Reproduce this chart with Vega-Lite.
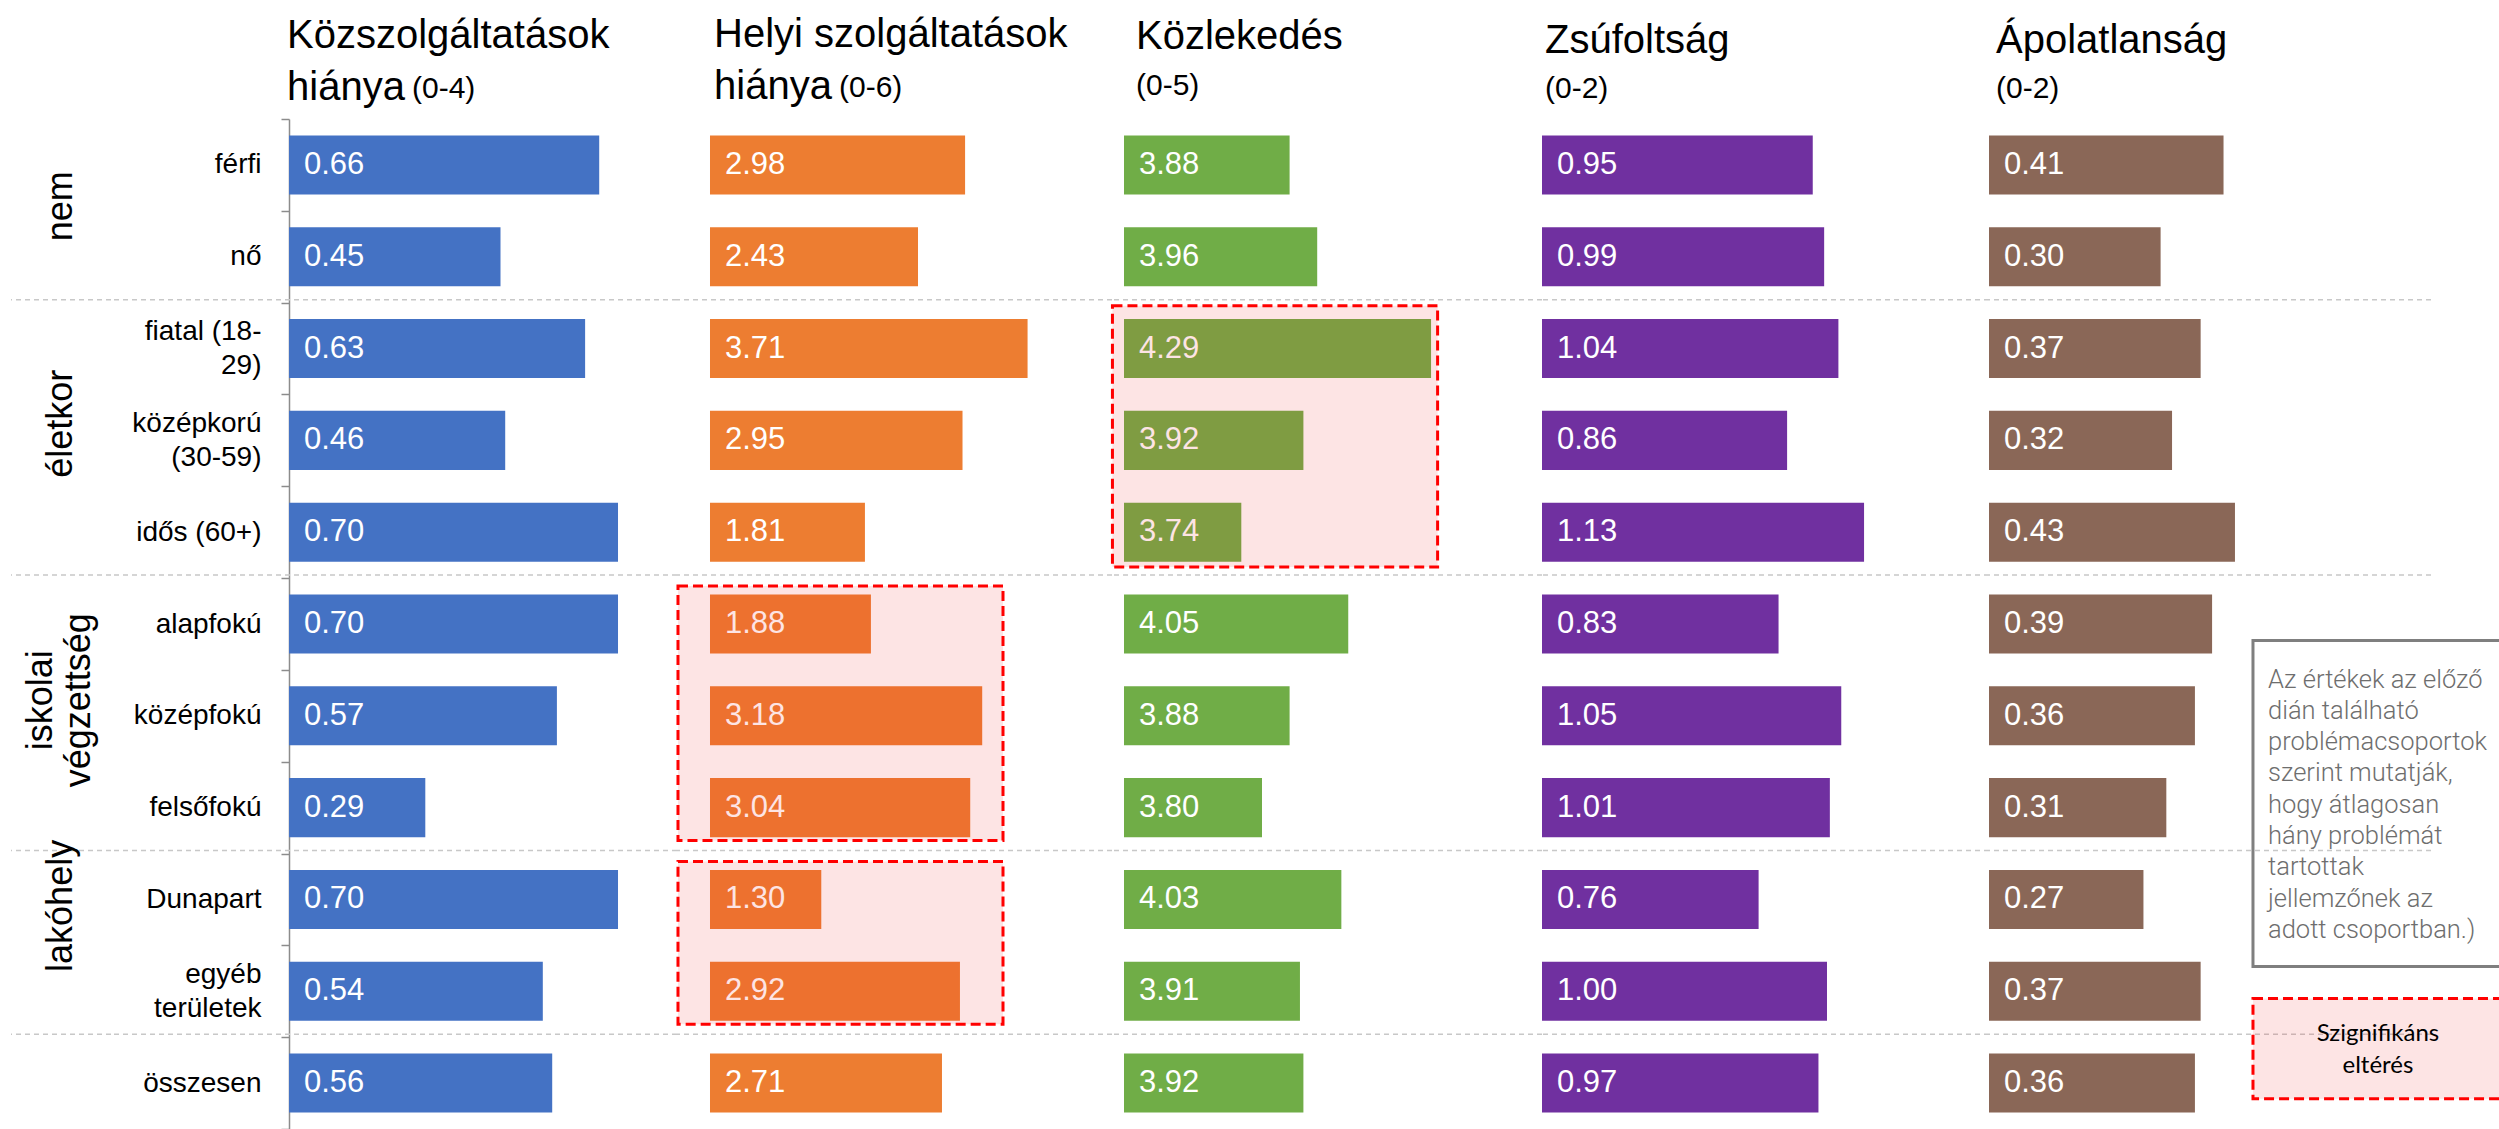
{
  "$schema": "https://vega.github.io/schema/vega-lite/v6.json",
  "padding": {"left": 10, "top": 15, "right": 0, "bottom": 0},
  "bounds": "flush",
  "spacing": 0,
  "datasets": {
    "bars": [
      {"panel": "P1", "row": "férfi", "value": 0.66},
      {"panel": "P1", "row": "nő", "value": 0.45},
      {"panel": "P1", "row": "fiatal (18-29)", "value": 0.63},
      {"panel": "P1", "row": "középkorú (30-59)", "value": 0.46},
      {"panel": "P1", "row": "idős (60+)", "value": 0.70},
      {"panel": "P1", "row": "alapfokú", "value": 0.70},
      {"panel": "P1", "row": "középfokú", "value": 0.57},
      {"panel": "P1", "row": "felsőfokú", "value": 0.29},
      {"panel": "P1", "row": "Dunapart", "value": 0.70},
      {"panel": "P1", "row": "egyéb területek", "value": 0.54},
      {"panel": "P1", "row": "összesen", "value": 0.56},
      {"panel": "P2", "row": "férfi", "value": 2.98},
      {"panel": "P2", "row": "nő", "value": 2.43},
      {"panel": "P2", "row": "fiatal (18-29)", "value": 3.71},
      {"panel": "P2", "row": "középkorú (30-59)", "value": 2.95},
      {"panel": "P2", "row": "idős (60+)", "value": 1.81},
      {"panel": "P2", "row": "alapfokú", "value": 1.88},
      {"panel": "P2", "row": "középfokú", "value": 3.18},
      {"panel": "P2", "row": "felsőfokú", "value": 3.04},
      {"panel": "P2", "row": "Dunapart", "value": 1.30},
      {"panel": "P2", "row": "egyéb területek", "value": 2.92},
      {"panel": "P2", "row": "összesen", "value": 2.71},
      {"panel": "P3", "row": "férfi", "value": 3.88},
      {"panel": "P3", "row": "nő", "value": 3.96},
      {"panel": "P3", "row": "fiatal (18-29)", "value": 4.29},
      {"panel": "P3", "row": "középkorú (30-59)", "value": 3.92},
      {"panel": "P3", "row": "idős (60+)", "value": 3.74},
      {"panel": "P3", "row": "alapfokú", "value": 4.05},
      {"panel": "P3", "row": "középfokú", "value": 3.88},
      {"panel": "P3", "row": "felsőfokú", "value": 3.80},
      {"panel": "P3", "row": "Dunapart", "value": 4.03},
      {"panel": "P3", "row": "egyéb területek", "value": 3.91},
      {"panel": "P3", "row": "összesen", "value": 3.92},
      {"panel": "P4", "row": "férfi", "value": 0.95},
      {"panel": "P4", "row": "nő", "value": 0.99},
      {"panel": "P4", "row": "fiatal (18-29)", "value": 1.04},
      {"panel": "P4", "row": "középkorú (30-59)", "value": 0.86},
      {"panel": "P4", "row": "idős (60+)", "value": 1.13},
      {"panel": "P4", "row": "alapfokú", "value": 0.83},
      {"panel": "P4", "row": "középfokú", "value": 1.05},
      {"panel": "P4", "row": "felsőfokú", "value": 1.01},
      {"panel": "P4", "row": "Dunapart", "value": 0.76},
      {"panel": "P4", "row": "egyéb területek", "value": 1.00},
      {"panel": "P4", "row": "összesen", "value": 0.97},
      {"panel": "P5", "row": "férfi", "value": 0.41},
      {"panel": "P5", "row": "nő", "value": 0.30},
      {"panel": "P5", "row": "fiatal (18-29)", "value": 0.37},
      {"panel": "P5", "row": "középkorú (30-59)", "value": 0.32},
      {"panel": "P5", "row": "idős (60+)", "value": 0.43},
      {"panel": "P5", "row": "alapfokú", "value": 0.39},
      {"panel": "P5", "row": "középfokú", "value": 0.36},
      {"panel": "P5", "row": "felsőfokú", "value": 0.31},
      {"panel": "P5", "row": "Dunapart", "value": 0.27},
      {"panel": "P5", "row": "egyéb területek", "value": 0.37},
      {"panel": "P5", "row": "összesen", "value": 0.36}
    ],
    "seps": [
      {"row": "fiatal (18-29)"},
      {"row": "alapfokú"},
      {"row": "Dunapart"},
      {"row": "összesen"}
    ],
    "sig": [
      {"panel": "P2", "first": "alapfokú", "last": "felsőfokú"},
      {"panel": "P2", "first": "Dunapart", "last": "egyéb területek"},
      {"panel": "P3", "first": "fiatal (18-29)", "last": "idős (60+)"}
    ],
    "groups": [
      {"label": "nem", "anchor": "férfi", "kind": "a"},
      {"label": "életkor", "anchor": "középkorú (30-59)", "kind": "b"},
      {"label": "iskolai\nvégzettség", "anchor": "középfokú", "kind": "d"},
      {"label": "lakóhely", "anchor": "Dunapart", "kind": "c"}
    ],
    "note": [
      {"top": "alapfokú", "bottom": "egyéb területek", "first": "középfokú", "text": "Az értékek az előző\ndián található\nproblémacsoportok\nszerint mutatják,\nhogy átlagosan\nhány problémát\ntartottak\njellemzőnek az\nadott csoportban.)"}
    ],
    "legend": [
      {"top": "egyéb területek", "bottom": "összesen", "first": "egyéb területek", "text": "Szignifikáns\neltérés"}
    ]
  },
  "hconcat": [
    {
      "width": 100,
      "height": 1010,
      "layer": [
        {
          "data": {"name": "seps"},
          "mark": {"type": "rule", "color": "#c8c8c8", "strokeWidth": 1.5, "strokeDash": [5, 4], "yOffset": -3},
          "encoding": {"y": {"field": "row", "type": "nominal", "bandPosition": 0, "scale": {"domain": ["férfi", "nő", "fiatal (18-29)", "középkorú (30-59)", "idős (60+)", "alapfokú", "középfokú", "felsőfokú", "Dunapart", "egyéb területek", "összesen"], "paddingInner": 0, "paddingOuter": 0}, "axis": null}}
        },
        {
          "data": {"name": "groups"},
          "transform": [{"filter": "datum.kind === 'a'"}],
          "mark": {"type": "text", "angle": 270, "align": "center", "baseline": "middle", "font": "Liberation Sans", "fontSize": 36, "lineHeight": 38, "lineBreak": "\n", "color": "#000000"},
          "encoding": {
            "y": {"field": "anchor", "type": "nominal", "bandPosition": 0.95, "scale": {"domain": ["férfi", "nő", "fiatal (18-29)", "középkorú (30-59)", "idős (60+)", "alapfokú", "középfokú", "felsőfokú", "Dunapart", "egyéb területek", "összesen"], "paddingInner": 0, "paddingOuter": 0}, "axis": null},
            "text": {"field": "label"}
          }
        },
        {
          "data": {"name": "groups"},
          "transform": [{"filter": "datum.kind === 'b'"}],
          "mark": {"type": "text", "angle": 270, "align": "center", "baseline": "middle", "font": "Liberation Sans", "fontSize": 36, "lineHeight": 38, "lineBreak": "\n", "color": "#000000"},
          "encoding": {
            "y": {"field": "anchor", "type": "nominal", "bandPosition": 0.32, "scale": {"domain": ["férfi", "nő", "fiatal (18-29)", "középkorú (30-59)", "idős (60+)", "alapfokú", "középfokú", "felsőfokú", "Dunapart", "egyéb területek", "összesen"], "paddingInner": 0, "paddingOuter": 0}, "axis": null},
            "text": {"field": "label"}
          }
        },
        {
          "data": {"name": "groups"},
          "transform": [{"filter": "datum.kind === 'd'"}],
          "mark": {"type": "text", "angle": 270, "align": "center", "baseline": "middle", "dy": -20, "font": "Liberation Sans", "fontSize": 36, "lineHeight": 38, "lineBreak": "\n", "color": "#000000"},
          "encoding": {
            "y": {"field": "anchor", "type": "nominal", "bandPosition": 0.33, "scale": {"domain": ["férfi", "nő", "fiatal (18-29)", "középkorú (30-59)", "idős (60+)", "alapfokú", "középfokú", "felsőfokú", "Dunapart", "egyéb területek", "összesen"], "paddingInner": 0, "paddingOuter": 0}, "axis": null},
            "text": {"field": "label"}
          }
        },
        {
          "data": {"name": "groups"},
          "transform": [{"filter": "datum.kind === 'c'"}],
          "mark": {"type": "text", "angle": 270, "align": "center", "baseline": "middle", "font": "Liberation Sans", "fontSize": 36, "lineHeight": 38, "lineBreak": "\n", "color": "#000000"},
          "encoding": {
            "y": {"field": "anchor", "type": "nominal", "bandPosition": 0.57, "scale": {"domain": ["férfi", "nő", "fiatal (18-29)", "középkorú (30-59)", "idős (60+)", "alapfokú", "középfokú", "felsőfokú", "Dunapart", "egyéb területek", "összesen"], "paddingInner": 0, "paddingOuter": 0}, "axis": null},
            "text": {"field": "label"}
          }
        }
      ]
    },
    {
      "width": 566,
      "height": 1010,
      "title": {"text": ["Közszolgáltatások", "hiánya"], "subtitle": "\u200b\u00a0\u00a0\u00a0\u00a0\u00a0\u00a0\u00a0\u00a0\u00a0\u00a0\u00a0\u00a0\u00a0\u00a0\u00a0(0-4)", "dx": 176, "offset": -3, "subtitlePadding": -34},
      "encoding": {
        "y": {"field": "row", "type": "nominal", "scale": {"domain": ["férfi", "nő", "fiatal (18-29)", "középkorú (30-59)", "idős (60+)", "alapfokú", "középfokú", "felsőfokú", "Dunapart", "egyéb területek", "összesen"], "paddingInner": 0, "paddingOuter": 0},
          "axis": {"orient": "left", "offset": -178, "title": null, "grid": false, "domainColor": "#8c8c8c", "domainWidth": 1.5, "tickColor": "#8c8c8c", "tickWidth": 1.5, "tickSize": 8, "tickBand": "extent", "labelFont": "Liberation Sans", "labelFontSize": 28, "labelColor": "#000000", "labelPadding": 20, "labelLimit": 300, "labelLineHeight": 34,
            "labelOffset": {"condition": {"test": "indexof(['fiatal (18-29)', 'középkorú (30-59)', 'egyéb területek'], datum.value) >= 0", "value": -17}, "value": 0},
            "labelExpr": "datum.value === 'fiatal (18-29)' ? ['fiatal (18-', '29)'] : datum.value === 'középkorú (30-59)' ? ['középkorú', '(30-59)'] : datum.value === 'egyéb területek' ? ['egyéb', 'területek'] : datum.label"}}
      },
      "layer": [
        {
          "data": {"name": "seps"},
          "mark": {"type": "rule", "color": "#c8c8c8", "strokeWidth": 1.5, "strokeDash": [5, 4], "yOffset": -3},
          "encoding": {"y": {"field": "row", "type": "nominal", "bandPosition": 0}}
        },
        {
          "data": {"name": "bars"},
          "transform": [{"filter": "datum.panel === 'P1'"}],
          "mark": {"type": "bar", "color": "#4472C4", "height": {"band": 0.643}},
          "encoding": {
            "x": {"field": "value", "type": "quantitative", "scale": {"domain": [-0.3787, 0.8255], "nice": false, "zero": false}, "axis": null},
            "x2": {"datum": 0}
          }
        },
        {
          "data": {"name": "bars"},
          "transform": [{"filter": "datum.panel === 'P1'"}],
          "mark": {"type": "text", "align": "left", "baseline": "middle", "dx": 15, "font": "Liberation Sans", "fontSize": 31, "color": "#ffffff"},
          "encoding": {
            "x": {"datum": 0, "axis": null},
            "text": {"field": "value", "type": "quantitative", "format": ".2f"}
          }
        }
      ]
    },
    {
      "width": 435,
      "height": 1010,
      "title": {"text": ["Helyi szolgáltatások", "hiánya"], "subtitle": "\u200b\u00a0\u00a0\u00a0\u00a0\u00a0\u00a0\u00a0\u00a0\u00a0\u00a0\u00a0\u00a0\u00a0\u00a0\u00a0(0-6)", "dx": 37, "offset": 12, "subtitlePadding": -34},
      "encoding": {
        "y": {"field": "row", "type": "nominal", "scale": {"domain": ["férfi", "nő", "fiatal (18-29)", "középkorú (30-59)", "idős (60+)", "alapfokú", "középfokú", "felsőfokú", "Dunapart", "egyéb területek", "összesen"], "paddingInner": 0, "paddingOuter": 0}, "axis": null}
      },
      "layer": [
        {
          "data": {"name": "seps"},
          "mark": {"type": "rule", "color": "#c8c8c8", "strokeWidth": 1.5, "strokeDash": [5, 4], "yOffset": -3},
          "encoding": {"y": {"field": "row", "type": "nominal", "bandPosition": 0}}
        },
        {
          "data": {"name": "bars"},
          "transform": [{"filter": "datum.panel === 'P2'"}],
          "mark": {"type": "bar", "color": "#ED7D31", "height": {"band": 0.643}},
          "encoding": {
            "x": {"field": "value", "type": "quantitative", "scale": {"domain": [-0.3855, 4.6963], "nice": false, "zero": false}, "axis": null},
            "x2": {"datum": 0}
          }
        },
        {
          "data": {"name": "bars"},
          "transform": [{"filter": "datum.panel === 'P2'"}],
          "mark": {"type": "text", "align": "left", "baseline": "middle", "dx": 15, "font": "Liberation Sans", "fontSize": 31, "color": "#ffffff"},
          "encoding": {
            "x": {"datum": 0, "axis": null},
            "text": {"field": "value", "type": "quantitative", "format": ".2f"}
          }
        },
        {
          "data": {"name": "sig"},
          "transform": [{"filter": "datum.panel === 'P2'"}],
          "mark": {"type": "rect", "fill": "#f02020", "fillOpacity": 0.12, "stroke": "#ff0000", "strokeWidth": 3, "strokeDash": [10, 5], "yOffset": 8, "y2Offset": -13},
          "encoding": {
            "y": {"field": "first", "type": "nominal", "bandPosition": 0},
            "y2": {"field": "last", "bandPosition": 1},
            "x": {"datum": -0.374, "axis": null},
            "x2": {"datum": 3.423}
          }
        }
      ]
    },
    {
      "width": 430,
      "height": 1010,
      "title": {"text": "Közlekedés", "subtitle": "(0-5)", "dx": 24, "offset": 18, "subtitlePadding": 14},
      "encoding": {
        "y": {"field": "row", "type": "nominal", "scale": {"domain": ["férfi", "nő", "fiatal (18-29)", "középkorú (30-59)", "idős (60+)", "alapfokú", "középfokú", "felsőfokú", "Dunapart", "egyéb területek", "összesen"], "paddingInner": 0, "paddingOuter": 0}, "axis": null}
      },
      "layer": [
        {
          "data": {"name": "seps"},
          "mark": {"type": "rule", "color": "#c8c8c8", "strokeWidth": 1.5, "strokeDash": [5, 4], "yOffset": -3},
          "encoding": {"y": {"field": "row", "type": "nominal", "bandPosition": 0}}
        },
        {
          "data": {"name": "bars"},
          "transform": [{"filter": "datum.panel === 'P3'"}],
          "mark": {"type": "bar", "color": "#70AD47", "height": {"band": 0.643}},
          "encoding": {
            "x": {"field": "value", "type": "quantitative", "scale": {"domain": [3.3652, 4.6116], "nice": false, "zero": false}, "axis": null},
            "x2": {"datum": 3.4}
          }
        },
        {
          "data": {"name": "bars"},
          "transform": [{"filter": "datum.panel === 'P3'"}],
          "mark": {"type": "text", "align": "left", "baseline": "middle", "dx": 15, "font": "Liberation Sans", "fontSize": 31, "color": "#ffffff"},
          "encoding": {
            "x": {"datum": 3.4, "axis": null},
            "text": {"field": "value", "type": "quantitative", "format": ".2f"}
          }
        },
        {
          "data": {"name": "sig"},
          "transform": [{"filter": "datum.panel === 'P3'"}],
          "mark": {"type": "rect", "fill": "#f02020", "fillOpacity": 0.12, "stroke": "#ff0000", "strokeWidth": 3, "strokeDash": [10, 5], "yOffset": 3, "y2Offset": -11},
          "encoding": {
            "y": {"field": "first", "type": "nominal", "bandPosition": 0},
            "y2": {"field": "last", "bandPosition": 1},
            "x": {"datum": 3.3665, "axis": null},
            "x2": {"datum": 4.309}
          }
        }
      ]
    },
    {
      "width": 447,
      "height": 1010,
      "title": {"text": "Zsúfoltság", "subtitle": "(0-2)", "dx": 3, "offset": 15, "subtitlePadding": 13},
      "encoding": {
        "y": {"field": "row", "type": "nominal", "scale": {"domain": ["férfi", "nő", "fiatal (18-29)", "középkorú (30-59)", "idős (60+)", "alapfokú", "középfokú", "felsőfokú", "Dunapart", "egyéb területek", "összesen"], "paddingInner": 0, "paddingOuter": 0}, "axis": null}
      },
      "layer": [
        {
          "data": {"name": "seps"},
          "mark": {"type": "rule", "color": "#c8c8c8", "strokeWidth": 1.5, "strokeDash": [5, 4], "yOffset": -3},
          "encoding": {"y": {"field": "row", "type": "nominal", "bandPosition": 0}}
        },
        {
          "data": {"name": "bars"},
          "transform": [{"filter": "datum.panel === 'P4'"}],
          "mark": {"type": "bar", "color": "#7030A0", "height": {"band": 0.643}},
          "encoding": {
            "x": {"field": "value", "type": "quantitative", "scale": {"domain": [0, 1.5684], "nice": false, "zero": false}, "axis": null},
            "x2": {"datum": 0}
          }
        },
        {
          "data": {"name": "bars"},
          "transform": [{"filter": "datum.panel === 'P4'"}],
          "mark": {"type": "text", "align": "left", "baseline": "middle", "dx": 15, "font": "Liberation Sans", "fontSize": 31, "color": "#ffffff"},
          "encoding": {
            "x": {"datum": 0, "axis": null},
            "text": {"field": "value", "type": "quantitative", "format": ".2f"}
          }
        }
      ]
    },
    {
      "width": 442,
      "height": 1010,
      "title": {"text": "Ápolatlanság", "subtitle": "(0-2)", "dx": 7, "offset": 15, "subtitlePadding": 13},
      "encoding": {
        "y": {"field": "row", "type": "nominal", "scale": {"domain": ["férfi", "nő", "fiatal (18-29)", "középkorú (30-59)", "idős (60+)", "alapfokú", "középfokú", "felsőfokú", "Dunapart", "egyéb területek", "összesen"], "paddingInner": 0, "paddingOuter": 0}, "axis": null}
      },
      "layer": [
        {
          "data": {"name": "seps"},
          "mark": {"type": "rule", "color": "#c8c8c8", "strokeWidth": 1.5, "strokeDash": [5, 4], "yOffset": -3},
          "encoding": {"y": {"field": "row", "type": "nominal", "bandPosition": 0}}
        },
        {
          "data": {"name": "bars"},
          "transform": [{"filter": "datum.panel === 'P5'"}],
          "mark": {"type": "bar", "color": "#8A6757", "height": {"band": 0.643}},
          "encoding": {
            "x": {"field": "value", "type": "quantitative", "scale": {"domain": [0, 0.7727], "nice": false, "zero": false}, "axis": null},
            "x2": {"datum": 0}
          }
        },
        {
          "data": {"name": "bars"},
          "transform": [{"filter": "datum.panel === 'P5'"}],
          "mark": {"type": "text", "align": "left", "baseline": "middle", "dx": 15, "font": "Liberation Sans", "fontSize": 31, "color": "#ffffff"},
          "encoding": {
            "x": {"datum": 0, "axis": null},
            "text": {"field": "value", "type": "quantitative", "format": ".2f"}
          }
        },
        {
          "data": {"name": "note"},
          "mark": {"type": "rect", "fillOpacity": 0, "fill": "#ffffff", "stroke": "#7f7f7f", "strokeWidth": 3},
          "encoding": {
            "y": {"field": "top", "type": "nominal", "bandPosition": 0.68},
            "y2": {"field": "bottom", "bandPosition": 0.23},
            "x": {"datum": 0.4615, "axis": null},
            "x2": {"datum": 0.93}
          }
        },
        {
          "data": {"name": "note"},
          "mark": {"type": "text", "align": "left", "baseline": "middle", "font": "Roboto", "fontWeight": 300, "fontSize": 25.5, "lineHeight": 31.3, "lineBreak": "\n", "color": "#6e6e6e"},
          "encoding": {
            "y": {"field": "first", "type": "nominal", "bandPosition": 0.105},
            "x": {"datum": 0.4878, "axis": null},
            "text": {"field": "text"}
          }
        },
        {
          "data": {"name": "legend"},
          "mark": {"type": "rect", "fill": "#f02020", "fillOpacity": 0.12, "stroke": "#ff0000", "strokeWidth": 3, "strokeDash": [10, 5]},
          "encoding": {
            "y": {"field": "top", "type": "nominal", "bandPosition": 0.58},
            "y2": {"field": "bottom", "bandPosition": 0.67},
            "x": {"datum": 0.4615, "axis": null},
            "x2": {"datum": 0.93}
          }
        },
        {
          "data": {"name": "legend"},
          "mark": {"type": "text", "align": "center", "baseline": "middle", "font": "Lato", "fontSize": 24, "lineHeight": 32, "lineBreak": "\n", "color": "#000000"},
          "encoding": {
            "y": {"field": "first", "type": "nominal", "bandPosition": 0.97},
            "x": {"datum": 0.68, "axis": null},
            "text": {"field": "text"}
          }
        }
      ]
    }
  ],
  "config": {
    "view": {"stroke": null},
    "title": {"font": "Liberation Sans", "fontSize": 40, "fontWeight": "normal", "color": "#000000", "anchor": "start", "frame": "group", "lineHeight": 52, "subtitleFont": "Liberation Sans", "subtitleFontSize": 30, "subtitleColor": "#000000", "subtitleLineHeight": 34}
  }
}
